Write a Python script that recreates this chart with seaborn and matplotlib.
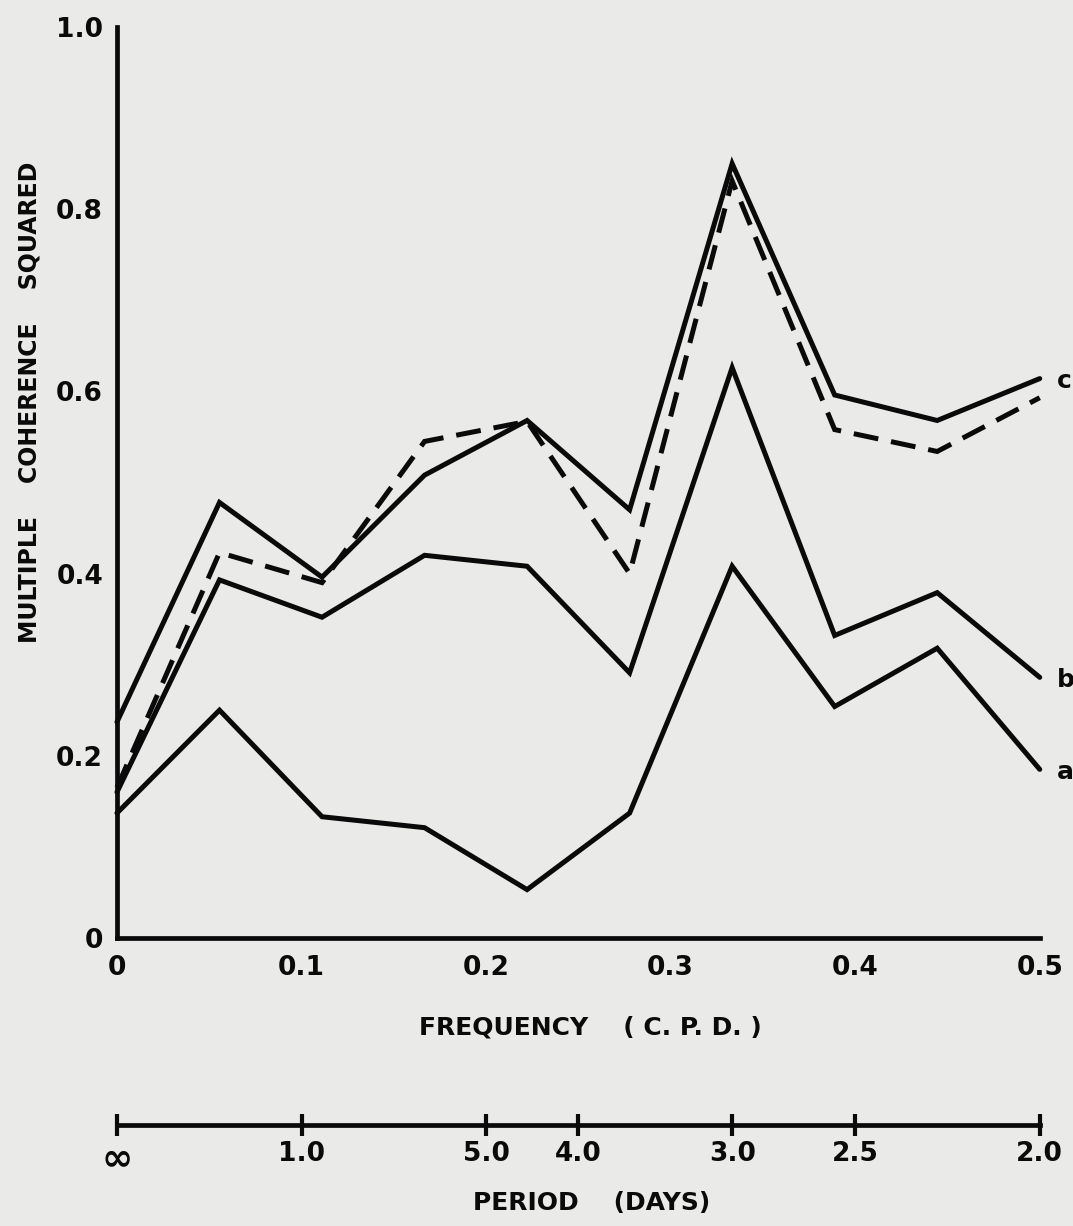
import numpy as np
import pandas as pd
import matplotlib
matplotlib.use("Agg")
import matplotlib.pyplot as plt
import seaborn as sns

# Frequencies (cycles per day) of the spectral estimates
freq = [0.0, 1/18, 2/18, 3/18, 4/18, 5/18, 6/18, 7/18, 8/18, 9/18]

# Multiple coherence squared for each case
coh_c = [0.237, 0.478, 0.396, 0.508, 0.568, 0.470, 0.850, 0.596, 0.568, 0.614]
coh_c_dashed = [0.165, 0.423, 0.390, 0.545, 0.567, 0.400, 0.831, 0.558, 0.534, 0.593]
coh_b = [0.160, 0.393, 0.352, 0.420, 0.408, 0.291, 0.626, 0.332, 0.379, 0.286]
coh_a = [0.137, 0.250, 0.133, 0.121, 0.053, 0.137, 0.408, 0.254, 0.318, 0.185]

series_names = ["c", "c'", "b", "a"]
end_labels = ["c", "b", "a"]

# Frequency axis ticks
freq_ticks = [0.0, 0.1, 0.2, 0.3, 0.4, 0.5]
freq_labels = ["0", "0.1", "0.2", "0.3", "0.4", "0.5"]

# Period axis ticks (frequency position and period label)
period_pos = [0.0, 0.1, 0.2, 0.25, 1/3, 0.4, 0.5]
period_labels = ["\u221e", "1.0", "5.0", "4.0", "3.0", "2.5", "2.0"]

y_ticks = [0, 0.2, 0.4, 0.6, 0.8, 1.0]
y_labels = ["0", "0.2", "0.4", "0.6", "0.8", "1.0"]

paper = "#eaeae8"
ink = "#0a0a0a"

sns.set_theme(style="white")
plt.rcParams["font.family"] = ["DejaVu Sans"]
plt.rcParams["font.weight"] = "bold"

df = pd.DataFrame({
    "freq": freq * 4,
    "coh": coh_c + coh_c_dashed + coh_b + coh_a,
    "case": sum([[n] * len(freq) for n in series_names], []),
})

fig = plt.figure(figsize=(10.73, 12.26), dpi=100, facecolor=paper)
ax = fig.add_axes([0.109, 0.235, 0.860, 0.743], facecolor=paper)

lw = 3.6
sns.lineplot(
    data=df, x="freq", y="coh", hue="case", style="case",
    palette={n: ink for n in series_names},
    dashes={"c": "", "c'": (5.0, 2.6), "b": "", "a": ""},
    linewidth=lw, legend=False, ax=ax, clip_on=False,
    estimator=None, sort=False,
)
for ln in ax.lines:
    ln.set_solid_joinstyle("miter")
    ln.set_dash_joinstyle("miter")

ax.set_xlim(0, 0.5)
ax.set_ylim(0, 1.0)

for s in ["top", "right"]:
    ax.spines[s].set_visible(False)
for s in ["left", "bottom"]:
    ax.spines[s].set_linewidth(3.4)
    ax.spines[s].set_color(ink)

ax.set_xticks(freq_ticks)
ax.set_xticklabels(freq_labels)
ax.set_yticks(y_ticks)
ax.set_yticklabels(y_labels)
ax.tick_params(axis="both", direction="inout", length=16, width=3.0,
               colors=ink, labelsize=19, pad=4)
ax.tick_params(axis="y", pad=2)

ax.set_xlabel("FREQUENCY    ( C. P. D. )", fontsize=18, fontweight="bold",
              color=ink)
ax.xaxis.set_label_coords(0.513, -0.085)
ax.set_ylabel("MULTIPLE    COHERENCE    SQUARED", fontsize=17,
              fontweight="bold", color=ink)
ax.yaxis.set_label_coords(-0.082, 0.588)

# Curve labels at the right-hand ends
ends = {"c": coh_c[-1], "b": coh_b[-1], "a": coh_a[-1]}
for lab in end_labels:
    ax.annotate(lab, xy=(freq[-1], ends[lab]), xytext=(12, -2),
                textcoords="offset points", fontsize=18, fontweight="bold",
                color=ink, va="center", ha="left", annotation_clip=False)

# Period scale below the frequency axis
sec = ax.secondary_xaxis(-0.205)
sec.set_xticks(period_pos)
sec.set_xticklabels(period_labels)
sec.spines["bottom"].set_linewidth(3.4)
sec.spines["bottom"].set_color(ink)
sec.tick_params(axis="x", direction="inout", length=16, width=3.0,
                colors=ink, labelsize=19, pad=4)
sec.get_xticklabels()[0].set_fontsize(27)
fig.text(0.551, 0.019, "PERIOD    (DAYS)", fontsize=18, fontweight="bold",
         color=ink, ha="center", va="center")

fig.savefig("out.png", dpi=100, facecolor=paper)
